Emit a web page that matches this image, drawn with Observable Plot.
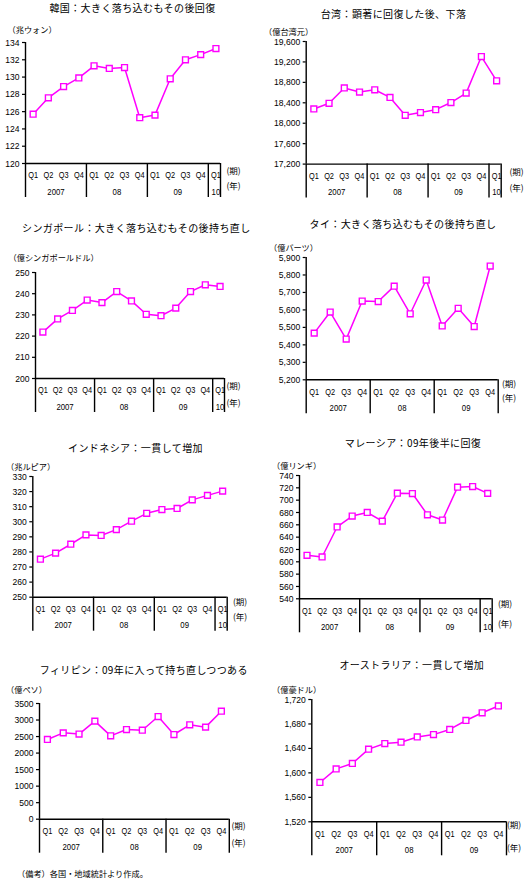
<!DOCTYPE html>
<html><head><meta charset="utf-8">
<script src="https://cdn.jsdelivr.net/npm/d3@7"></script>
<script src="https://cdn.jsdelivr.net/npm/@observablehq/plot@0.6"></script>
<style>
body{margin:0;background:#fff;}
#root{position:relative;width:527px;height:882px;overflow:hidden;font-family:"Noto Sans CJK JP",sans-serif;color:#000;background:#fff;}
.t{position:absolute;white-space:nowrap;line-height:1;}
.title{font-size:10px;letter-spacing:0.4px;transform:translate(-50%,-50%);}
.unit{font-size:8.2px;transform:translateY(-50%);}
.lab{font-size:8.5px;transform:translateY(-50%);}
#root svg{position:absolute;}
</style></head><body><div id="root"></div><script>
// ---- data ----
const quarters = ["Q1", "Q2", "Q3", "Q4"];
const years13 = ["2007", "08", "09", "10"];
const years12 = ["2007", "08", "09"];

const korea = [125.7, 127.6, 128.9, 129.9, 131.3, 131.0, 131.1, 125.3, 125.6, 129.8, 132.0, 132.6, 133.3];
const taiwan = [18280, 18390, 18690, 18610, 18655, 18505, 18155, 18210, 18265, 18405, 18590, 19305, 18830];
const singapore = [221.9, 228.1, 232.1, 237.0, 235.8, 241.0, 236.6, 230.3, 229.6, 233.2, 241.0, 244.2, 243.4];
const thailand = [5467, 5588, 5433, 5651, 5648, 5736, 5578, 5771, 5508, 5609, 5505, 5851];
const indonesia = [275.2, 279.2, 285.1, 291.3, 290.9, 294.8, 300.4, 305.6, 308.1, 308.8, 314.5, 317.5, 320.3];
const malaysia = [610.5, 607.8, 656.5, 674.2, 680.0, 666.0, 711.3, 710.8, 676.3, 667.8, 721.1, 722.1, 711.0];
const philippines = [2411, 2612, 2575, 2966, 2522, 2712, 2692, 3105, 2562, 2855, 2785, 3268];
const australia = [1584.3, 1606.5, 1615.4, 1638.8, 1648.0, 1650.2, 1658.8, 1662.6, 1671.0, 1685.7, 1698.3, 1709.4];

const koreaTicks = [120, 122, 124, 126, 128, 130, 132, 134];
const taiwanTicks = [17200, 17600, 18000, 18400, 18800, 19200, 19600];
const singaporeTicks = [200, 210, 220, 230, 240, 250];
const thailandTicks = [5200, 5300, 5400, 5500, 5600, 5700, 5800, 5900];
const indonesiaTicks = [250, 260, 270, 280, 290, 300, 310, 320, 330];
const malaysiaTicks = [540, 560, 580, 600, 620, 640, 660, 680, 700, 720, 740];
const philippinesTicks = [0, 500, 1000, 1500, 2000, 2500, 3000, 3500];
const australiaTicks = [1520, 1560, 1600, 1640, 1680, 1720];

const titles = ["韓国：大きく落ち込むもその後回復", "台湾：顕著に回復した後、下落",
  "シンガポール：大きく落ち込むもその後持ち直し", "タイ：大きく落ち込むもその後持ち直し",
  "インドネシア：一貫して増加", "マレーシア：09年後半に回復",
  "フィリピン：09年に入って持ち直しつつある", "オーストラリア：一貫して増加"];
const units = ["兆ウォン", "億台湾元", "億シンガポールドル", "億バーツ", "兆ルピア", "億リンギ", "億ペソ", "億豪ドル"];
const footnote = "（備考）各国・地域統計より作成。";

const plain = d3.format("d");
const comma = d3.format(",");

// ---- layout ----
const panels = [
  {values: korea, ticks: koreaTicks, fmt: plain, left: 0, W: 263, ax: 25, top: 42, bot: 163, right: 220, tx: 132.5, ty: 7.5, ux: 7.5, uy: 29.3, px: 226.5, py: 170, yy: 185},
  {values: taiwan, ticks: taiwanTicks, fmt: comma, left: 263, W: 264, ax: 305.7, top: 40.7, bot: 163.3, right: 500.7, tx: 393.5, ty: 14, ux: 264, uy: 31, px: 509.5, py: 171, yy: 187},
  {values: singapore, ticks: singaporeTicks, fmt: plain, left: 0, W: 263, ax: 35, top: 272, bot: 378, right: 224, tx: 136.3, ty: 228, ux: 8.5, uy: 256.7, px: 226.5, py: 385, yy: 401.7},
  {values: thailand, ticks: thailandTicks, fmt: comma, left: 263, W: 264, ax: 305.7, top: 256.7, bot: 379, right: 497.7, tx: 403, ty: 224, ux: 269, uy: 247.3, px: 502, py: 382.7, yy: 396.7},
  {values: indonesia, ticks: indonesiaTicks, fmt: plain, left: 0, W: 263, ax: 32.3, top: 476, bot: 596.7, right: 226.7, tx: 135.5, ty: 448, ux: 6, uy: 466, px: 233, py: 600.7, yy: 616},
  {values: malaysia, ticks: malaysiaTicks, fmt: plain, left: 263, W: 264, ax: 299, top: 475, bot: 598.3, right: 491.7, tx: 413, ty: 443.3, ux: 272, uy: 465, px: 498, py: 603.3, yy: 622.7},
  {values: philippines, ticks: philippinesTicks, fmt: plain, left: 0, W: 263, ax: 39, top: 703.3, bot: 819, right: 228.8, tx: 143.8, ty: 670, ux: 6, uy: 689.3, px: 231.5, py: 825, yy: 841.7},
  {values: australia, ticks: australiaTicks, fmt: comma, left: 263, W: 264, ax: 311.3, top: 698.7, bot: 821, right: 506, tx: 411.8, ty: 665, ux: 272, uy: 689.3, px: 507, py: 824, yy: 846.7}
];

const root = document.getElementById("root");
function addText(cls, text, x, y) {
  const d = document.createElement("div");
  d.className = "t " + cls;
  d.textContent = text;
  d.style.left = x + "px";
  d.style.top = y + "px";
  root.appendChild(d);
}

const numFont = "'Liberation Sans', Arial, sans-serif";

panels.forEach((p, k) => {
  const n = p.values.length;
  const rows = p.values.map((v, i) => ({i, v}));
  const years = n === 13 ? years13 : years12;
  const xEnd = n === 13 ? 12.3 : 11.5;
  const bounds = n === 13 ? [-0.5, 3.5, 7.5, 11.5, 12.3] : [-0.5, 3.5, 7.5, 11.5];
  const yearPos = years.map((y, j) => (j < 3 ? 4 * j + 1.5 : 12));
  const yearMap = new Map(yearPos.map((x, j) => [x, years[j]]));
  const mt = 8, mb = 36;
  const H = (p.bot - p.top) + mt + mb;
  const ml = p.ax - p.left;
  const mr = p.W - (p.right - p.left);
  const ymin = p.ticks[0], ymax = p.ticks[p.ticks.length - 1];

  const svg = Plot.plot({
    width: p.W, height: H,
    marginTop: mt, marginBottom: mb, marginLeft: ml, marginRight: mr,
    x: {type: "linear", domain: [-0.5, xEnd], axis: null, label: null},
    y: {domain: [ymin, ymax], axis: null, label: null},
    style: {fontFamily: numFont, fontSize: "9.5px", color: "#000", background: "transparent", overflow: "visible"},
    marks: [
      Plot.ruleY([ymin], {stroke: "#000", strokeWidth: 1.4}),
      Plot.ruleX([-0.5], {stroke: "#000", strokeWidth: 1.4}),
      Plot.axisX({ticks: bounds, tickSize: 34, tickPadding: 0, tickFormat: () => "", strokeWidth: 1.4, label: null}),
      Plot.axisX({ticks: d3.range(n), tickSize: 0, tickPadding: 8.5, tickFormat: i => quarters[Math.round(i) % 4], fontFamily: numFont, fontSize: 9, label: null}),
      Plot.axisX({ticks: yearPos, tickSize: 0, tickPadding: 24.3, tickFormat: d => yearMap.get(d), fontFamily: numFont, fontSize: 9.5, label: null}),
      Plot.axisY({ticks: p.ticks, tickSize: 3, tickPadding: 3, tickFormat: p.fmt, fontFamily: numFont, fontSize: 9.5, strokeWidth: 1.2, label: null}),
      Plot.line(rows, {x: "i", y: "v", stroke: "#ff00ff", strokeWidth: 1.5}),
      Plot.dot(rows, {x: "i", y: "v", symbol: "square", r: 3.3, stroke: "#ff00ff", fill: "#fff", strokeWidth: 1.4})
    ]
  });
  // condense the category labels horizontally (the original uses a narrow face)
  d3.select(svg).selectAll("text").each(function () {
    const t = this.textContent;
    if (/^(Q\d|2007|08|09|10)$/.test(t)) {
      const tr = this.getAttribute("transform");
      if (tr) this.setAttribute("transform", tr + " scale(0.82,1)");
    } else if (/^[\d,]+$/.test(t)) {
      const tr = this.getAttribute("transform");
      if (tr) this.setAttribute("transform", tr + " scale(0.9,1)");
    }
  });
  svg.style.left = p.left + "px";
  svg.style.top = (p.top - mt) + "px";
  root.appendChild(svg);

  addText("title", titles[k], p.tx, p.ty);
  addText("unit", "（" + units[k] + "）", p.ux, p.uy);
  addText("lab", "(期)", p.px, p.py);
  addText("lab", "(年)", p.px, p.yy);
});

addText("unit", footnote, 17, 872.5);
</script></body></html>
